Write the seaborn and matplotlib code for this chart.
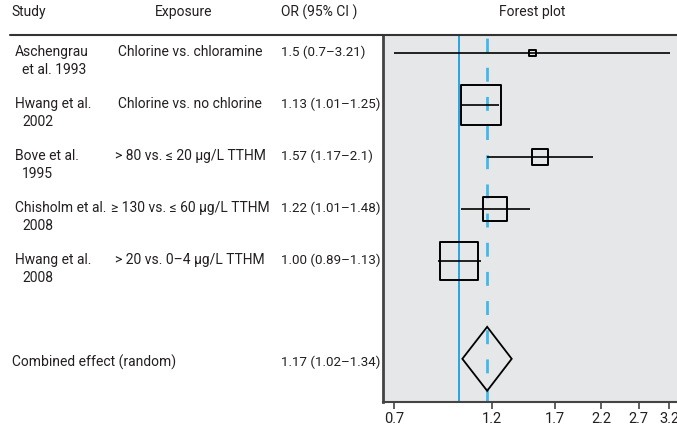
import matplotlib
matplotlib.use("Agg")
import matplotlib.pyplot as plt
import matplotlib.lines as mlines
import seaborn as sns
import numpy as np
import pandas as pd

# %% data
study_line1 = ["Aschengrau", "Hwang et al.", "Bove et al.", "Chisholm et al.", "Hwang et al."]
study_line2 = ["et al. 1993", "2002", "1995", "2008", "2008"]
exposure = ["Chlorine vs. chloramine", "Chlorine vs. no chlorine",
            "> 80 vs. \u2264 20 \u00b5g/L TTHM", "\u2265 130 vs. \u2264 60 \u00b5g/L TTHM",
            "> 20 vs. 0\u20134 \u00b5g/L TTHM"]
or_label = ["1.5 (0.7\u20133.21)", "1.13 (1.01\u20131.25)", "1.57 (1.17\u20132.1)",
            "1.22 (1.01\u20131.48)", "1.00 (0.89\u20131.13)"]
odds_ratio = [1.5, 1.13, 1.57, 1.22, 1.00]
ci_low = [0.7, 1.01, 1.17, 1.01, 0.89]
ci_high = [3.21, 1.25, 2.1, 1.48, 1.13]
weight = [1.2, 40.8, 6.5, 14.7, 36.8]   # % weight, box area

combined_label = "Combined effect (random)"
combined_or_label = "1.17 (1.02\u20131.34)"
combined_or = 1.17
combined_low = 1.02
combined_high = 1.34

xticks = [0.7, 1.2, 1.7, 2.2, 2.7, 3.2]

df = pd.DataFrame({"y": np.arange(1, 6), "or": odds_ratio, "lo": ci_low,
                   "hi": ci_high, "w": weight})

# %% figure
sns.set_style("white")
plt.rcParams["font.family"] = ["Roboto", "DejaVu Sans"]
plt.rcParams["text.color"] = "#231f20"
plt.rcParams["xtick.color"] = "#231f20"
W, H = 677, 428
fig = plt.figure(figsize=(W / 100, H / 100), dpi=100)


def px(x, y):
    return x / W, 1 - y / H


ax = fig.add_axes([383 / W, 1 - 402 / H, 1 - 383 / W, (402 - 35) / H])
ax.set_facecolor("#e6e7e8")
ax.set_xscale("log")
ax.set_xlim(0.658, 3.34)
y_comb = 6.88
ax.set_ylim(7.71, 0.654)

ax.axvline(1.0, color="#1a9fdc", lw=1.3, zorder=1)
ax.axvline(combined_or, color="#42b8e8", lw=2, ls=(0, (5, 5.5)), zorder=1)

ax.hlines(df["y"], df["lo"], df["hi"], color="black", lw=1.2, zorder=2)
sizes = (4.5 * np.sqrt(df["w"])) ** 2
sns.scatterplot(data=df, x="or", y="y", marker="s", s=sizes, facecolor="none",
                edgecolor="black", linewidth=1.4, ax=ax, zorder=3, legend=False)

dh = 0.615
ax.fill([combined_low, combined_or, combined_high, combined_or],
        [y_comb, y_comb - dh, y_comb, y_comb + dh],
        facecolor="none", edgecolor="black", lw=1.3, zorder=3)

ax.set_xticks(xticks)
ax.set_xticklabels([str(t) for t in xticks])
ax.xaxis.set_minor_locator(matplotlib.ticker.NullLocator())
ax.set_yticks([])
ax.set_xlabel("")
ax.set_ylabel("")
for s in ["top", "right"]:
    ax.spines[s].set_visible(False)
ax.spines["left"].set_color("#444444")
ax.spines["left"].set_linewidth(2)
ax.spines["bottom"].set_color("#444444")
ax.spines["bottom"].set_linewidth(1.5)
ax.tick_params(axis="x", bottom=True, length=5, width=1.2, color="#444444",
               labelsize=10.5, pad=2)

# header
fs = 10
fs_or = 9.6
fig.add_artist(mlines.Line2D([10 / W, 1], [1 - 35 / H] * 2, color="#333333", lw=1.5))
fig.text(*px(11, 12), "Study", fontsize=fs, va="center", ha="left")
fig.text(*px(184, 12), "Exposure", fontsize=fs, va="center", ha="center")
fig.text(*px(281, 12), "OR (95% CI )", fontsize=fs, va="center", ha="left")
fig.text(*px(532, 12), "Forest plot", fontsize=fs, va="center", ha="center")

row_y = [52, 104, 156, 208, 260]
for i in range(5):
    fig.text(*px(15, row_y[i]), study_line1[i], fontsize=fs, va="center", ha="left")
    fig.text(*px(22, row_y[i] + 18), study_line2[i], fontsize=fs, va="center", ha="left")
    fig.text(*px(190, row_y[i]), exposure[i], fontsize=fs, va="center", ha="center")
    fig.text(*px(281, row_y[i]), or_label[i], fontsize=fs_or, va="center", ha="left")
fig.text(*px(12, 362), combined_label, fontsize=fs, va="center", ha="left")
fig.text(*px(281, 362), combined_or_label, fontsize=fs_or, va="center", ha="left")

fig.savefig("out.png", dpi=100)
